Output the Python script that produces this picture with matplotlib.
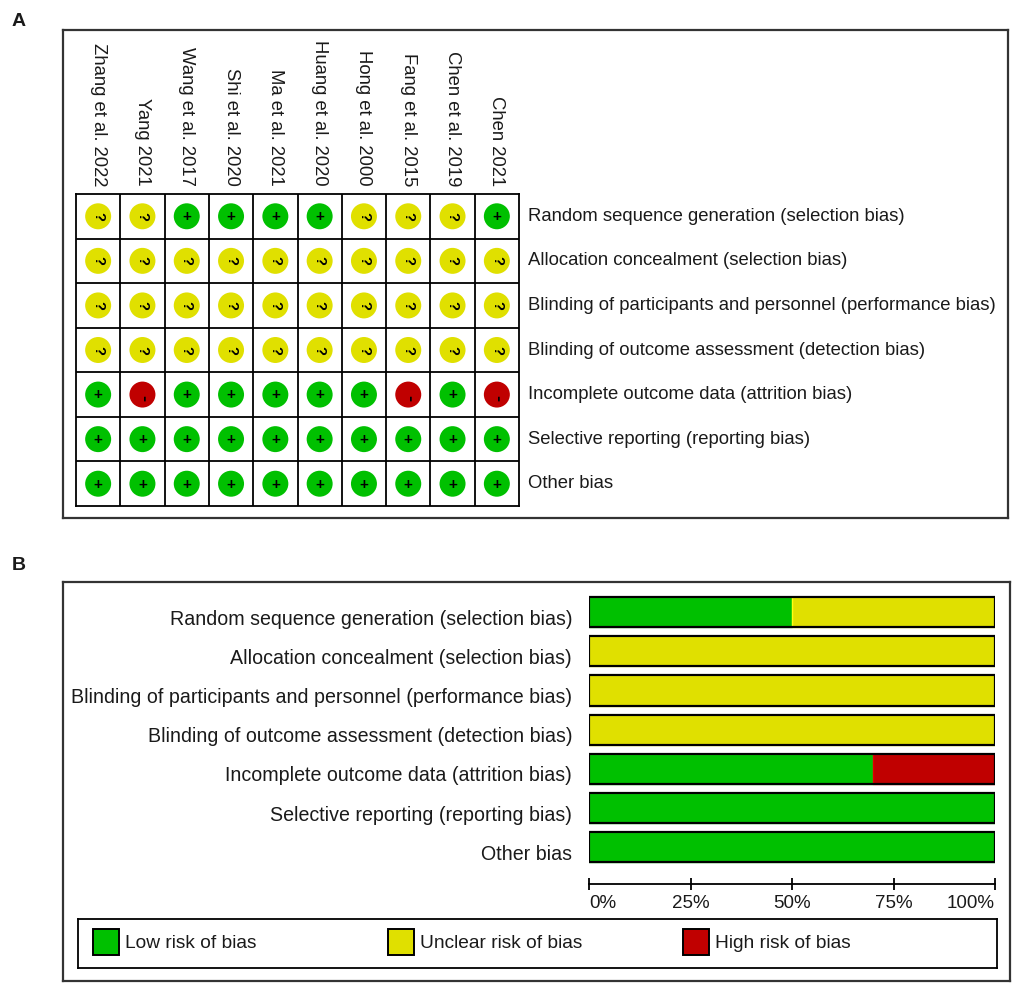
import numpy as np
import matplotlib
matplotlib.use('Agg')
import matplotlib.pyplot as plt
from matplotlib.patches import Rectangle

plt.rcParams['font.family'] = ['Liberation Sans', 'DejaVu Sans']

W, H = 1013, 984

studies = ['Zhang et al. 2022', 'Yang 2021', 'Wang et al. 2017', 'Shi et al. 2020',
           'Ma et al. 2021', 'Huang et al. 2020', 'Hong et al. 2000', 'Fang et al. 2015',
           'Chen et al. 2019', 'Chen 2021']

domains = ['Random sequence generation (selection bias)',
           'Allocation concealment (selection bias)',
           'Blinding of participants and personnel (performance bias)',
           'Blinding of outcome assessment (detection bias)',
           'Incomplete outcome data (attrition bias)',
           'Selective reporting (reporting bias)',
           'Other bias']

# L = low, U = unclear, H = high (one entry per study, same order as studies)
random_sequence = ['U', 'U', 'L', 'L', 'L', 'L', 'U', 'U', 'U', 'L']
allocation = ['U', 'U', 'U', 'U', 'U', 'U', 'U', 'U', 'U', 'U']
blinding_participants = ['U', 'U', 'U', 'U', 'U', 'U', 'U', 'U', 'U', 'U']
blinding_outcome = ['U', 'U', 'U', 'U', 'U', 'U', 'U', 'U', 'U', 'U']
incomplete_data = ['L', 'H', 'L', 'L', 'L', 'L', 'L', 'H', 'L', 'H']
selective_reporting = ['L', 'L', 'L', 'L', 'L', 'L', 'L', 'L', 'L', 'L']
other_bias = ['L', 'L', 'L', 'L', 'L', 'L', 'L', 'L', 'L', 'L']

judgements = [random_sequence, allocation, blinding_participants, blinding_outcome,
              incomplete_data, selective_reporting, other_bias]

levels = ['L', 'U', 'H']
level_names = ['Low risk of bias', 'Unclear risk of bias', 'High risk of bias']
level_colors = {'L': '#00C000', 'U': '#E0E000', 'H': '#C00000'}
level_edges = {'L': '#22DD22', 'U': '#FFFF10', 'H': '#E00000'}

TEXT = '#1a1a1a'


def add_px_axes(fig, left, top, right, bottom):
    return fig.add_axes([left / W, 1 - bottom / H, (right - left) / W, (bottom - top) / H])


def frame_axes(ax, lw=1.6, color='#333333'):
    ax.set_xticks([])
    ax.set_yticks([])
    for spine in ax.spines.values():
        spine.set_linewidth(lw)
        spine.set_color(color)
    ax.patch.set_alpha(0)


fig = plt.figure(figsize=(W / 100, H / 100), dpi=100)

# ---------------- panel A: risk of bias summary ----------------
fig.text(12 / W, 1 - 26 / H, 'A', fontsize=14, fontweight='bold', color=TEXT)
frame_axes(add_px_axes(fig, 63, 30, 1008, 518))

n_rows, n_cols = len(domains), len(studies)
grid_ax = add_px_axes(fig, 76, 194, 519, 506)
grid_ax.set_xlim(0, n_cols)
grid_ax.set_ylim(n_rows, 0)
grid_ax.set_xticks([])
grid_ax.set_yticks([])
for spine in grid_ax.spines.values():
    spine.set_linewidth(1.3)
grid_ax.vlines(np.arange(1, n_cols), 0, n_rows, color='black', lw=1.3)
grid_ax.hlines(np.arange(1, n_rows), 0, n_cols, color='black', lw=1.3)

for r, row in enumerate(judgements):
    xs = np.arange(n_cols) + 0.5
    ys = np.full(n_cols, r + 0.5)
    grid_ax.scatter(xs, ys, s=350, c=[level_colors[j] for j in row], linewidths=0, zorder=3)
    for c, j in enumerate(row):
        if j == 'L':
            grid_ax.text(c + 0.5, r + 0.52, '+', ha='center', va='center',
                         fontsize=11, fontweight='bold', color='black', zorder=4)
        elif j == 'U':
            grid_ax.text(c + 0.5, r + 0.5, '?', rotation=-90, ha='center', va='center',
                         fontsize=10.5, fontweight='bold', color='black', zorder=4)
        else:
            grid_ax.text(c + 0.5, r + 0.58, '-', rotation=-90, ha='center', va='center',
                         fontsize=13, fontweight='bold', color='black', zorder=4)

for c, name in enumerate(studies):
    grid_ax.text(c + 0.5, -0.18, name, rotation=-90, ha='center', va='bottom',
                 fontsize=13.3, color=TEXT)

for r, name in enumerate(domains):
    grid_ax.text(n_cols + 0.2, r + 0.5, name, ha='left', va='center', fontsize=13.3, color=TEXT)

# ---------------- panel B: risk of bias graph ----------------
fig.text(12 / W, 1 - 570 / H, 'B', fontsize=14, fontweight='bold', color=TEXT)
frame_axes(add_px_axes(fig, 63, 582, 1010, 981))

bar_ax = add_px_axes(fig, 589, 592.5, 995, 867)
bar_ax.set_xlim(0, 1)
bar_ax.set_ylim(n_rows - 0.5, -0.5)
bar_ax.patch.set_alpha(0)

for r, row in enumerate(judgements):
    left = 0.0
    for lev in levels:
        share = row.count(lev) / len(row)
        if share > 0:
            bar_ax.barh(r, share, left=left, height=0.77, color=level_colors[lev],
                        edgecolor=level_edges[lev], linewidth=1.0)
        left += share
    bar_ax.barh(r, 1.0, height=0.77, fill=False, edgecolor='black', linewidth=1.6, zorder=3)
    bar_ax.annotate(domains[r], xy=(0, r), xycoords=('axes fraction', 'data'),
                    xytext=(-17, -7), textcoords='offset pixels', ha='right', va='center',
                    fontsize=14.1, color=TEXT)

for side in ['left', 'right', 'top']:
    bar_ax.spines[side].set_visible(False)
bar_ax.spines['bottom'].set_position(('outward', 12.3))
bar_ax.spines['bottom'].set_linewidth(1.3)
bar_ax.set_yticks([])
pct_ticks = [0, 0.25, 0.5, 0.75, 1.0]
bar_ax.set_xticks(pct_ticks)
bar_ax.set_xticklabels(['0%', '25%', '50%', '75%', '100%'], fontsize=13.5, color=TEXT)
bar_ax.tick_params(axis='x', direction='inout', length=8.5, width=1.3, pad=3.5)
tick_labels = bar_ax.get_xticklabels()
tick_labels[0].set_ha('left')
tick_labels[-1].set_ha('right')

# legend box
leg_ax = add_px_axes(fig, 78, 919, 997, 968)
frame_axes(leg_ax, lw=1.3, color='black')
leg_ax.set_xlim(0, 919)
leg_ax.set_ylim(49, 0)
for k, (lev, name) in enumerate(zip(levels, level_names)):
    x0 = 15 + k * 295
    leg_ax.add_patch(Rectangle((x0, 10), 26, 26, facecolor=level_colors[lev],
                               edgecolor='black', linewidth=1.4))
    leg_ax.text(x0 + 32, 24, name, ha='left', va='center', fontsize=13.8, color=TEXT)

fig.savefig('out.png', dpi=100, facecolor='white')
